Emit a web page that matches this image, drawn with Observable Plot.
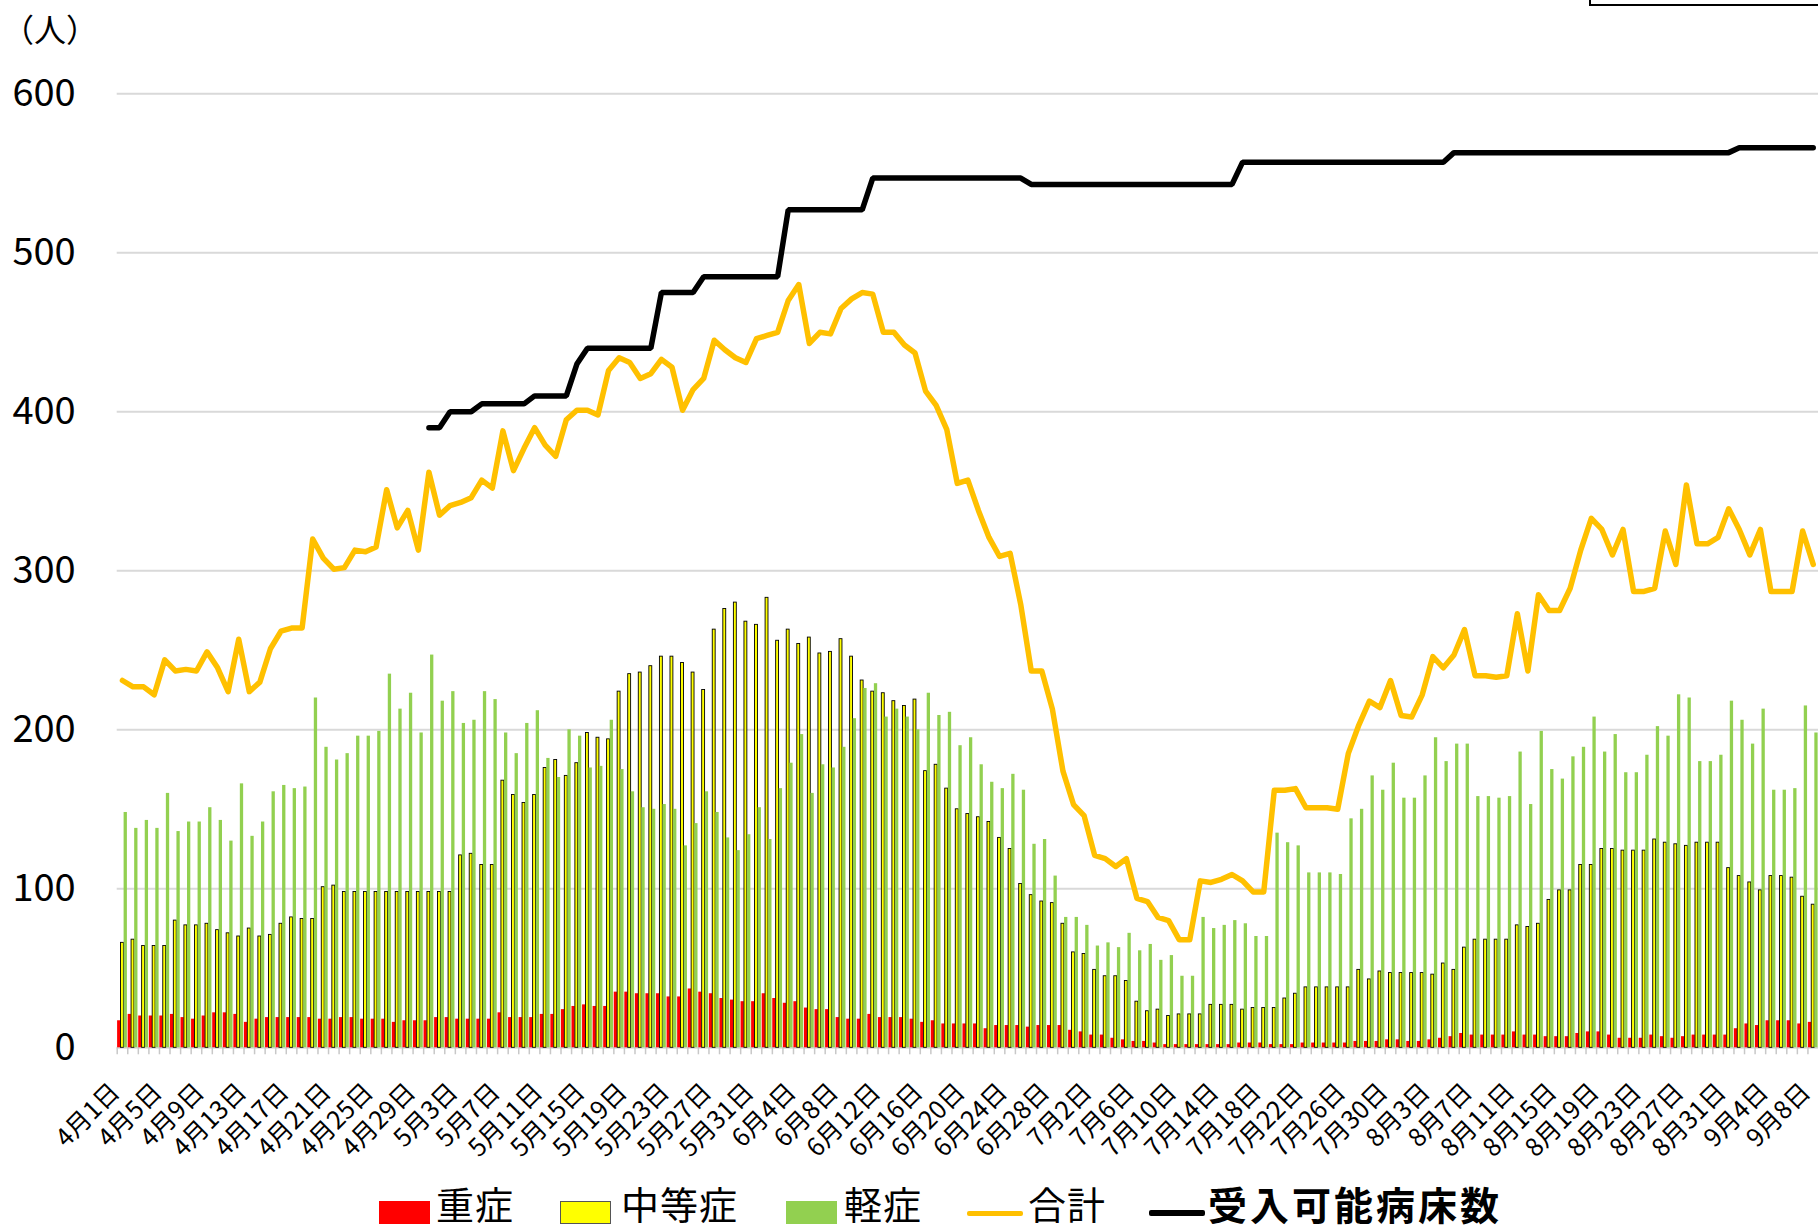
<!DOCTYPE html>
<html>
<head>
<meta charset="utf-8">
<script src="https://cdn.jsdelivr.net/npm/d3@7"></script>
<script src="https://cdn.jsdelivr.net/npm/@observablehq/plot@0.6"></script>
<style>
  body { margin: 0; background: #fff; }
  #wrap { position: relative; width: 1818px; height: 1231px; overflow: hidden; background: #fff;
          font-family: 'Noto Sans CJK JP', 'Noto Sans', sans-serif; color: #000; }
  #chart { position: absolute; left: 0; top: 0; }
  .unit { position: absolute; left: 2px; top: 8px; font-size: 32px; line-height: 40px; }
  .box { position: absolute; left: 1589px; top: -47px; width: 300px; height: 53px; box-sizing: border-box;
         border: 2.5px solid #000; }
  .sw { position: absolute; top: 1201px; width: 51px; height: 23px; box-sizing: border-box; }
  .ln { position: absolute; width: 56px; height: 5px; border-radius: 2px; }
  .lt { position: absolute; top: 1184px; font-size: 38px; line-height: 38px; white-space: nowrap; }
</style>
</head>
<body>
<div id="wrap">
  <div id="chart"></div>
  <div class="unit">（人）</div>
  <div class="box"></div>
  <div class="sw" style="left:379px;background:#FF0000;"></div>
  <div class="lt" style="left:436px;letter-spacing:1px;">重症</div>
  <div class="sw" style="left:560px;background:#FFFF00;border:1px solid #555;"></div>
  <div class="lt" style="left:621px;letter-spacing:1px;">中等症</div>
  <div class="sw" style="left:786px;background:#92D050;"></div>
  <div class="lt" style="left:844px;letter-spacing:1px;">軽症</div>
  <div class="ln" style="left:967px;top:1211px;background:#FFC000;"></div>
  <div class="lt" style="left:1028px;letter-spacing:1px;">合計</div>
  <div class="ln" style="left:1149px;top:1210px;height:6px;background:#000;"></div>
  <div class="lt" style="left:1208px;font-weight:bold;font-size:39px;letter-spacing:3px;">受入可能病床数</div>
</div>
<script>
// ---- categories (days 4/1 .. 9/8) ----
const monthLengths = [[4, 30], [5, 31], [6, 30], [7, 31], [8, 31], [9, 8]];
const days = [];
for (const [m, n] of monthLengths) for (let d = 1; d <= n; d++) days.push(`${m}月${d}日`);

// ---- tick labels ----
const tickLabels = ["4月1日","4月5日","4月9日","4月13日","4月17日","4月21日","4月25日","4月29日",
  "5月3日","5月7日","5月11日","5月15日","5月19日","5月23日","5月27日","5月31日",
  "6月4日","6月8日","6月12日","6月16日","6月20日","6月24日","6月28日",
  "7月2日","7月6日","7月10日","7月14日","7月18日","7月22日","7月26日","7月30日",
  "8月3日","8月7日","8月11日","8月15日","8月19日","8月23日","8月27日","8月31日",
  "9月4日","9月8日"];
const yTicks = [0, 100, 200, 300, 400, 500, 600];

// ---- series: 重症 (severe) ----
const severe = [
  17,21,20,20,20,21,19,18,20,22,22,21,16,18,19,19,19,19,19,18,18,19,19,18,18,18,16,
  17,17,17,19,19,18,18,18,18,22,19,19,19,21,21,24,26,27,26,26,35,35,34,34,34,32,32,
  37,35,34,31,30,29,29,34,31,28,29,25,24,24,19,18,18,21,19,19,19,18,16,17,15,15,15,
  15,12,14,14,14,13,14,14,14,11,10,8,8,6,5,4,4,3,2,2,2,2,2,2,2,3,3,
  3,2,2,2,3,3,3,3,3,4,4,4,5,5,4,4,5,6,7,9,8,8,8,8,10,8,8,
  7,7,7,9,10,10,8,6,6,6,8,7,6,7,8,8,8,8,12,15,14,17,17,17,15,16
];
// ---- series: 中等症 (moderate) ----
const moderate = [
  66,68,64,64,64,80,77,77,78,74,72,70,75,70,71,78,82,81,81,101,102,98,98,98,98,98,98,
  98,98,98,98,98,121,122,115,115,168,159,154,159,176,181,171,179,198,195,194,224,235,236,240,246,246,242,
  236,225,263,276,280,268,266,283,256,263,254,258,248,249,257,246,231,224,223,218,215,219,174,178,163,150,147,
  145,142,132,125,103,96,92,91,78,60,59,49,45,45,42,29,23,24,20,21,21,21,27,27,27,24,25,
  25,25,31,34,38,38,38,38,38,49,43,48,47,47,47,47,46,53,49,63,68,68,68,68,77,76,78,
  93,99,99,115,115,125,125,124,124,124,131,129,128,127,129,129,129,113,108,104,99,108,108,107,95,90
];
// ---- series: 軽症 (mild) ----
const mild = [
  148,138,143,138,160,136,142,142,151,143,130,166,133,142,161,165,163,164,220,189,181,185,196,196,199,235,213,
  223,198,247,218,224,204,206,224,219,198,185,204,212,182,170,200,196,176,177,206,175,161,151,150,153,150,127,
  141,161,148,132,124,134,151,131,163,179,197,160,178,176,189,207,226,229,208,213,208,200,223,209,211,190,195,
  178,167,163,172,162,128,131,108,82,82,77,64,66,63,72,61,65,55,58,45,45,82,75,77,80,78,70,
  70,135,129,127,110,110,110,109,144,150,171,162,179,157,157,171,195,180,191,191,158,158,157,158,186,153,199,
  175,169,183,189,208,186,197,173,173,184,202,196,222,220,180,180,184,218,206,191,213,162,162,163,215,198
];
// ---- series: 合計 (total) ----
const total = [
  231,227,227,222,244,237,238,237,249,239,224,257,224,230,251,262,264,264,320,308,301,302,313,312,315,351,327,
  338,313,362,335,341,343,346,357,352,388,363,377,390,379,372,395,401,401,398,426,434,431,421,424,433,428,401,
  414,421,445,439,434,431,446,448,450,470,480,443,450,449,465,471,475,474,450,450,442,437,413,404,389,355,357,
  338,321,309,311,279,237,237,213,174,153,146,121,119,114,119,94,92,82,80,68,68,105,104,106,109,105,98,
  98,162,162,163,151,151,151,150,185,203,218,214,231,209,208,222,246,239,247,263,234,234,233,234,273,237,285,
  275,275,289,313,333,326,310,326,287,287,289,325,304,354,317,317,321,339,326,310,326,287,287,287,325,304
];
// ---- series: 受入可能病床数 (available beds), from 4月30日 ----
const bedsStart = "4月30日";
const beds = [
  390,390,400,400,400,405,405,405,405,405,410,410,410,410,430,
  440,440,440,440,440,440,440,475,475,475,475,
  485,485,485,485,485,485,485,485,527,527,527,527,527,527,527,527,
  547,547,547,547,547,547,547,547,547,547,547,547,547,547,547,
  543,543,543,543,543,543,543,543,543,543,543,543,543,543,543,543,543,543,543,543,
  557,557,557,557,557,557,557,557,557,557,557,557,557,557,557,557,557,557,557,557,
  563,563,563,563,563,563,563,563,563,563,563,563,563,563,563,563,563,563,563,563,563,563,563,563,563,563,563,
  566,566,566,566,566,566,566,566
];
const bedsOffset = days.indexOf(bedsStart);

const W = 1818, H = 1160, ML = 116.7, MR = 0, MT = 93.3, MB = H - 1047.3;
const bw = (W - ML - MR) / days.length;

const chart = Plot.plot({
  width: W, height: H,
  marginLeft: ML, marginRight: MR, marginTop: MT, marginBottom: MB,
  style: { fontFamily: "'Noto Sans CJK JP', 'Noto Sans', sans-serif", color: "#000", background: "transparent", overflow: "visible" },
  x: { type: "band", domain: days, padding: 0, round: false, axis: null },
  y: { domain: [0, 600], axis: null },
  marks: [
    Plot.gridY(yTicks, { stroke: "#d9d9d9", strokeOpacity: 1, strokeWidth: 2 }),
    Plot.axisY(yTicks, { tickSize: 0, tickPadding: 41.5, fontSize: 38, tickFormat: d => String(d), fill: "#000" }),
    Plot.axisX(days, { tickSize: 7, tickFormat: () => "", stroke: "#c8c8c8", strokeWidth: 1.5, dx: -bw / 2 }),
    Plot.barY(severe, { x: (d, i) => days[i], y: d => d, fill: "#FF0000", insetLeft: 0.4, insetRight: bw - 3.6 }),
    Plot.barY(moderate, { x: (d, i) => days[i], y: d => d, fill: "#FFFF00", stroke: "#000", strokeWidth: 0.9, insetLeft: 3.8, insetRight: bw - 6.7 }),
    Plot.barY(mild, { x: (d, i) => days[i], y: d => d, fill: "#92D050", insetLeft: 6.9, insetRight: bw - 10.2 }),
    Plot.line(total, { x: (d, i) => days[i], y: d => d, stroke: "#FFC000", strokeWidth: 5.5, strokeLinejoin: "round" }),
    Plot.line(beds, { x: (d, i) => days[i + bedsOffset], y: d => d, stroke: "#000", strokeWidth: 5.5, strokeLinejoin: "miter" }),
    Plot.text(tickLabels, { x: d => d, frameAnchor: "bottom", dx: -7, dy: 40, rotate: -45, textAnchor: "end", lineAnchor: "middle", fontSize: 25, fill: "#000" })
  ]
});
document.getElementById("chart").appendChild(chart);
</script>
</body>
</html>
